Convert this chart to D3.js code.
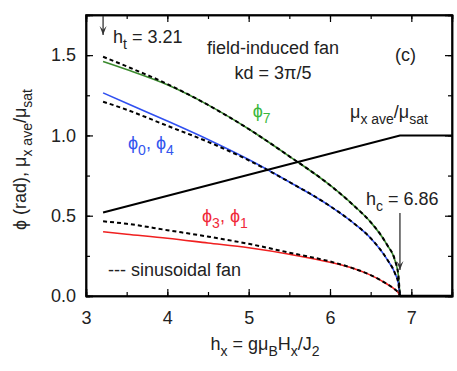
<!DOCTYPE html>
<meta charset="utf-8">
<style>
body { margin: 0; background: #fff; }
text { font-family: "Liberation Sans", Arial, sans-serif; }
.line { fill: none; }
</style>
<body>
<script src="https://d3js.org/d3.v7.min.js"></script>
<script>

// field values (h_x) where the curves were read
var hField  = [3.21, 3.5, 4.0, 4.5, 5.0, 5.5, 6.0, 6.3, 6.5, 6.7, 6.8, 6.84, 6.86];
// field-induced fan, solid
var phi7    = [1.46, 1.41, 1.315, 1.19, 1.04, 0.87, 0.69, 0.56, 0.46, 0.32, 0.22, 0.13, 0];
var phi04   = [1.265, 1.2, 1.09, 0.975, 0.85, 0.71, 0.56, 0.45, 0.36, 0.23, 0.14, 0.08, 0];
var phi31   = [0.40, 0.385, 0.36, 0.33, 0.30, 0.26, 0.21, 0.17, 0.13, 0.075, 0.04, 0.02, 0];
// sinusoidal fan, dashed
var sin7    = [1.49, 1.43, 1.32, 1.19, 1.04, 0.87, 0.69, 0.56, 0.46, 0.32, 0.22, 0.13, 0];
var sin04   = [1.21, 1.16, 1.06, 0.96, 0.845, 0.71, 0.56, 0.45, 0.36, 0.23, 0.14, 0.08, 0];
var sin31   = [0.465, 0.45, 0.41, 0.37, 0.325, 0.27, 0.215, 0.17, 0.13, 0.075, 0.04, 0.02, 0];
// magnetization
var muField = [3.21, 6.86, 7.5];
var muVal   = [0.52, 1.0, 1.0];
// angles above h_c
var zeroField = [6.86, 7.5];
var zeroVal   = [0, 0];

var xTicks = [3, 4, 5, 6, 7];
var yTicks = [0, 0.5, 1.0, 1.5];

var PHI = "\u03d5";

var margin = {top: 15, right: 5, bottom: 75, left: 86},
    width = 457 - margin.left - margin.right,
    height = 371 - margin.top - margin.bottom;

var x = d3.scaleLinear().domain([3, 7.5]).range([0, width]);
var y = d3.scaleLinear().domain([0, 1.75]).range([height, 0]);

var svg = d3.select("body").append("svg")
    .attr("width", 457)
    .attr("height", 371)
  .append("g")
    .attr("transform", "translate(" + margin.left + "," + margin.top + ")");

function pts(xs, ys) { return xs.map(function(v, i) { return [v, ys[i]]; }); }

var line = d3.line()
    .x(function(d) { return x(d[0]); })
    .y(function(d) { return y(d[1]); })
    .curve(d3.curveMonotoneX);
var straight = d3.line()
    .x(function(d) { return x(d[0]); })
    .y(function(d) { return y(d[1]); });

// solid curves
[[phi7, "#3b8a2e"], [phi04, "#3050f0"], [phi31, "#f02020"]].forEach(function(s) {
  svg.append("path").attr("class", "line")
      .attr("d", line(pts(hField, s[0])))
      .attr("stroke", s[1]).attr("stroke-width", 1.6);
});

// dashed sinusoidal fan
[sin7, sin04, sin31].forEach(function(s) {
  svg.append("path").attr("class", "line")
      .attr("d", line(pts(hField, s)))
      .attr("stroke", "#000").attr("stroke-width", 2)
      .attr("stroke-dasharray", "4,3");
});

svg.append("path").attr("class", "line")
    .attr("d", straight(pts(muField, muVal)))
    .attr("stroke", "#000").attr("stroke-width", 2);

svg.append("path").attr("class", "line")
    .attr("d", straight(pts(zeroField, zeroVal)))
    .attr("stroke", "#000").attr("stroke-width", 2.5);

// axes, ticks inside on all four sides
function ticksMinor(s, step) { return d3.range(s.domain()[0], s.domain()[1] + 1e-9, step); }

svg.append("g").attr("transform", "translate(0," + height + ")")
    .call(d3.axisBottom(x).tickValues(ticksMinor(x, 0.5)).tickSize(-4).tickFormat(""));
svg.append("g").attr("transform", "translate(0," + height + ")")
    .call(d3.axisBottom(x).tickValues(xTicks).tickSize(-7).tickPadding(15).tickFormat(d3.format("d")));
svg.append("g")
    .call(d3.axisTop(x).tickValues(ticksMinor(x, 0.5)).tickSize(-4).tickFormat(""));
svg.append("g")
    .call(d3.axisTop(x).tickValues(xTicks).tickSize(-7).tickFormat(""));
svg.append("g")
    .call(d3.axisLeft(y).tickValues(ticksMinor(y, 0.25)).tickSize(-4).tickFormat(""));
svg.append("g")
    .call(d3.axisLeft(y).tickValues(yTicks).tickSize(-7).tickPadding(10).tickFormat(d3.format(".1f")));
svg.append("g").attr("transform", "translate(" + width + ",0)")
    .call(d3.axisRight(y).tickValues(ticksMinor(y, 0.25)).tickSize(-4).tickFormat(""));
svg.append("g").attr("transform", "translate(" + width + ",0)")
    .call(d3.axisRight(y).tickValues(yTicks).tickSize(-7).tickFormat(""));

svg.selectAll(".domain").attr("stroke-width", 1.5);
svg.selectAll(".tick line").attr("stroke-width", 1.2);
svg.selectAll(".tick text").style("font-size", "18px").attr("fill", "#222");

svg.append("rect").attr("width", width).attr("height", height)
    .attr("fill", "none").attr("stroke", "#000").attr("stroke-width", 1.5);

// text with subscripts: parts = [[text, sub?], ...]
function label(px, py, parts, color, anchor, size) {
  var t = svg.append("text").attr("x", px).attr("y", py)
      .attr("fill", color || "#222")
      .style("font-size", (size || 18) + "px")
      .attr("text-anchor", anchor || "start");
  var shift = 0;
  parts.forEach(function(p) {
    var sub = p[1];
    var dy = sub ? 6 - shift : -shift;
    shift = sub ? 6 : 0;
    t.append("tspan").attr("dy", dy)
        .style("font-size", sub ? Math.round((size || 18) * 0.78) + "px" : null)
        .text(p[0]);
  });
  return t;
}

label(x(3.21) + 10, 28, [["h"], ["t", 1], [" = 3.21"]]);
label(x(5.3), 39, [["field-induced fan"]], "#222", "middle");
label(x(5.3), 64, [["kd = 3\u03c0/5"]], "#222", "middle");
label(309, 46, [["(c)"]]);
label(x(5.05), 102, [[PHI], ["7", 1]], "#3cb83c");
label(264, 103, [["\u03bc"], ["x ave", 1], ["/\u03bc"], ["sat", 1]]);
label(42, 134, [[PHI], ["0", 1], [", " + PHI], ["4", 1]], "#3355ee");
label(116, 207, [[PHI], ["3", 1], [", " + PHI], ["1", 1]], "#f02a3a");
label(22, 261, [["--- sinusoidal fan"]]);
label(280, 190, [["h"], ["c", 1], [" = 6.86"]]);

// arrows
function arrow(px, y0, y1) {
  svg.append("line").attr("x1", px).attr("x2", px).attr("y1", y0).attr("y2", y1)
      .attr("stroke", "#333").attr("stroke-width", 1.3);
  svg.append("path")
      .attr("d", "M" + (px - 3.5) + "," + (y1 - 9) + "L" + px + "," + y1 + "L" + (px + 3.5) + "," + (y1 - 9) + "L" + px + "," + (y1 - 5) + "Z")
      .attr("fill", "#333");
}
arrow(x(3.21), 1, 20);
arrow(x(6.86), 198, 255);

// axis titles
function title(t, parts) {
  parts.forEach(function(p, i, arr) {
    var prevSub = i > 0 && arr[i - 1][1];
    t.append("tspan").attr("dy", p[1] ? (prevSub ? 0 : 6) : (prevSub ? -6 : 0))
        .style("font-size", p[1] ? "14px" : null).text(p[0]);
  });
}

title(svg.append("text").attr("x", width / 2 - 4).attr("y", height + 54)
    .attr("text-anchor", "middle").attr("fill", "#222").style("font-size", "18px"),
  [["h"], ["x", 1], [" = g\u03bc"], ["B", 1], ["H"], ["x", 1], ["/J"], ["2", 1]]);

title(svg.append("text")
    .attr("transform", "translate(" + (-60) + "," + (height / 2 + 4) + ") rotate(-90)")
    .attr("text-anchor", "middle").attr("fill", "#222").style("font-size", "18px"),
  [[PHI + " (rad),  \u03bc"], ["x ave", 1], ["/\u03bc"], ["sat", 1]]);

</script>
</body>
